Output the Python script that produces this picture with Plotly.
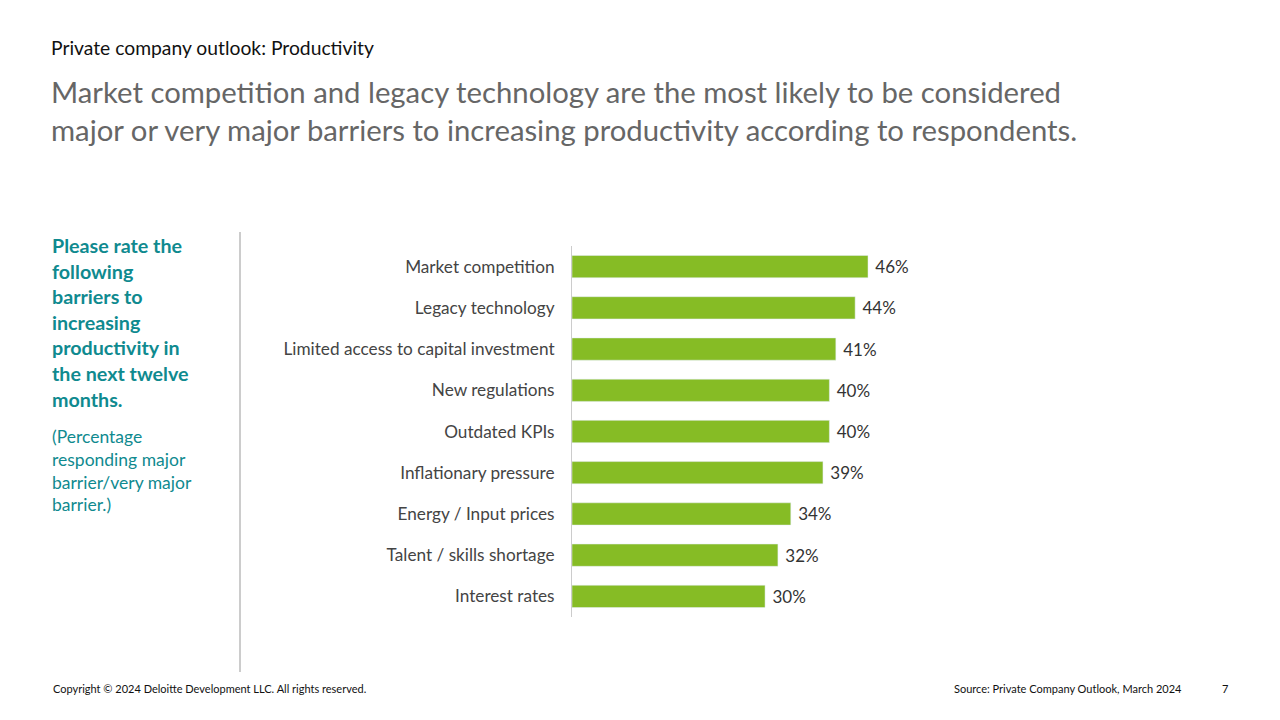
import plotly.graph_objects as go

categories = ["Market competition", "Legacy technology", "Limited access to capital investment",
              "New regulations", "Outdated KPIs", "Inflationary pressure",
              "Energy / Input prices", "Talent / skills shortage", "Interest rates"]
values = [46, 44, 41, 40, 40, 39, 34, 32, 30]
labels = [f"{v}%" for v in values]

FONT = "Lato, Open Sans, sans-serif"
TEAL = "#0f8a8f"
OFF = 8  # page body offset

fig = go.Figure(go.Bar(
    x=values, y=categories, orientation="h", marker_color="#86bc25",
    text=labels, texttemplate=" %{text}", textposition="outside", cliponaxis=False,
    textfont=dict(size=17, color="#333333", family=FONT), width=0.54))

W, H = 1280, 720
x0, x1 = 572 - OFF, 1000 - OFF
y0, y1 = 246 - OFF, 617 - OFF
fig.update_layout(
    width=W, height=H, paper_bgcolor="white", plot_bgcolor="white",
    margin=dict(l=x0, r=W - x1, t=y0, b=H - y1, pad=0, autoexpand=False),
    showlegend=False, font=dict(family=FONT),
    xaxis=dict(range=[0, (x1 - x0) / 6.435], visible=False, fixedrange=True),
    yaxis=dict(autorange="reversed", showline=True, linecolor="#cccccc", linewidth=1,
               ticks="", tickfont=dict(size=17.2, color="#444444", family=FONT),
               ticklabelstandoff=13, showgrid=False),
)

def px_x(x): return (x - OFF - x0) / (x1 - x0)
def px_y(y): return (y1 - (y - OFF)) / (y1 - y0)

def t(x, y, s, size, color):
    fig.add_annotation(xref="paper", yref="paper", x=px_x(x), y=px_y(y), text=s,
                       showarrow=False, xanchor="left", yanchor="top", align="left",
                       font=dict(size=size, color=color, family=FONT))

t(49, 34, "Private company outlook: Productivity", 19.3, "#111111")
t(49, 72, "Market competition and legacy technology are the most likely to be considered<br>major or very major barriers to increasing productivity according to respondents.", 29.3, "#666666")
t(50, 232, "<b>Please rate the<br>following<br>barriers to<br>increasing<br>productivity in<br>the next twelve<br>months.</b>", 19.7, TEAL)
t(50, 424, "(Percentage<br>responding major<br>barrier/very major<br>barrier.)", 17.5, TEAL)
t(51, 680, "Copyright © 2024 Deloitte Development LLC. All rights reserved.", 11, "#111111")
t(952, 680, "Source: Private Company Outlook, March 2024", 11, "#111111")
t(1220, 680, "7", 11, "#111111")

fig.add_shape(type="line", xref="paper", yref="paper", x0=px_x(240), x1=px_x(240),
              y0=px_y(232), y1=px_y(672), line=dict(color="#bbbbbb", width=1.5))

fig.write_html("out.html")
